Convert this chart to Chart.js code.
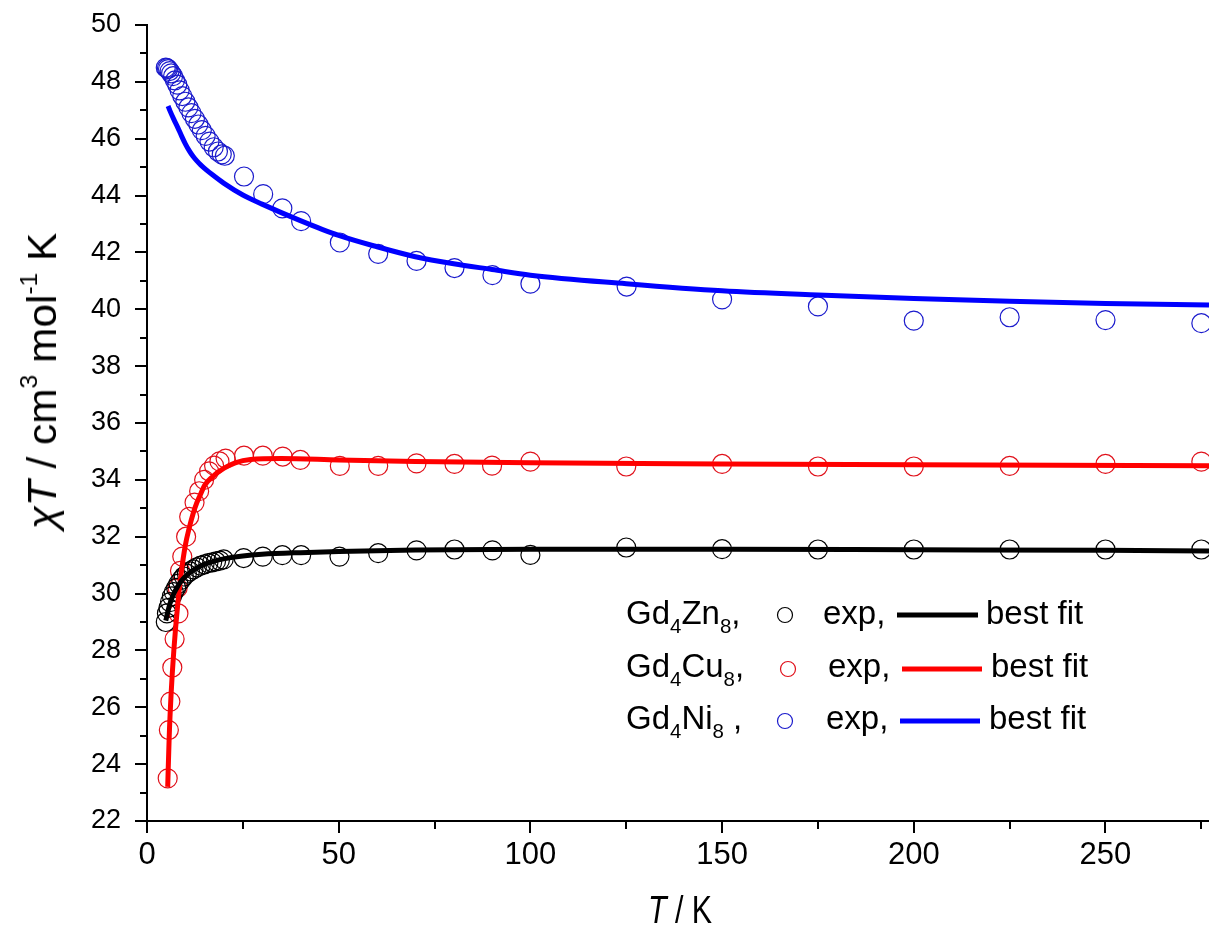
<!DOCTYPE html>
<html>
<head>
<meta charset="utf-8">
<script src="https://cdn.jsdelivr.net/npm/chart.js@4.4.1/dist/chart.umd.min.js"></script>
<style>
  html, body { margin: 0; padding: 0; background: #fff; }
  #wrap { position: relative; width: 1209px; height: 936px; overflow: hidden; }
  canvas { position: absolute; left: 0; top: 0; }
  .ttl { position: absolute; font-family: "Liberation Sans", Arial, sans-serif; color: #000; white-space: nowrap; line-height: 1; }
  .ttl i { font-style: italic; }
  .ttl sup { font-size: 58%; vertical-align: 0.8em; line-height: 0; }
  #ytitle { font-size: 40px; left: 42px; top: 381px; transform: translate(-50%, -50%) rotate(-90deg) scaleX(1.06); }
  #xtitle { font-size: 38px; left: 680px; top: 910px; transform: translate(-50%, -50%) scaleX(0.8); }
  .leg { position: absolute; font-family: "Liberation Sans", Arial, sans-serif; font-size: 33px; color: #000; white-space: nowrap; line-height: 1; }
  .leg sub { font-size: 62%; vertical-align: -0.45em; line-height: 0; }
</style>
</head>
<body>
<div id="wrap">
  <canvas id="c" width="1209" height="936"></canvas>
  <div id="ytitle" class="ttl"><i>χT</i> / cm<sup>3</sup> mol<sup>-1</sup> K</div>
  <div id="xtitle" class="ttl"><i>T</i> / K</div>
  <div class="leg" style="left:626px; top:596px;">Gd<sub>4</sub>Zn<sub>8</sub>,</div>
  <div class="leg" style="left:823px; top:596px;">exp,</div>
  <div class="leg" style="left:986px; top:596px;">best fit</div>
  <div class="leg" style="left:626px; top:649px;">Gd<sub>4</sub>Cu<sub>8</sub>,</div>
  <div class="leg" style="left:828px; top:649px;">exp,</div>
  <div class="leg" style="left:991px; top:649px;">best fit</div>
  <div class="leg" style="left:626px; top:701px;">Gd<sub>4</sub>Ni<sub>8</sub> ,</div>
  <div class="leg" style="left:826px; top:701px;">exp,</div>
  <div class="leg" style="left:989px; top:701px;">best fit</div>
</div>
<script>
// ---------- data ----------
const znExpT = [4.9,5.2,5.6,6.0,6.5,7.0,7.6,8.2,8.9,9.6,10.4,11.2,12.1,13.0,14.0,15.0,16.0,17.0,18.0,19.0,20.0,25.2,30.2,35.3,40.2,50.2,60.3,70.3,80.2,90.1,100,125,150,175,200,225,250,275];
const znExpY = [29.0,29.3,29.5,29.7,29.9,30.05,30.2,30.35,30.48,30.6,30.7,30.78,30.85,30.92,30.98,31.03,31.07,31.1,31.13,31.16,31.2,31.25,31.3,31.35,31.35,31.3,31.42,31.52,31.55,31.52,31.36,31.62,31.56,31.55,31.55,31.55,31.55,31.55];
const znFitT = [4.9,5.5,6,7,8,9,10,12,14,16,18,20,25,30,40,50,70,100,150,200,250,277];
const znFitY = [29.05,29.4,29.65,30.0,30.25,30.45,30.6,30.82,30.97,31.08,31.16,31.22,31.32,31.38,31.44,31.48,31.53,31.56,31.56,31.54,31.52,31.5];

const cuExpT = [5.4,5.7,6.1,6.6,7.2,8.2,8.0,8.6,9.2,10.2,11.0,12.4,13.6,14.9,16.2,17.5,18.9,20.5,25.3,30.2,35.4,40,50.3,60.3,70.3,80.2,90,100,125,150,175,200,225,250,275];
const cuExpY = [23.5,25.2,26.2,27.4,28.4,29.3,30.2,30.8,31.3,32.0,32.7,33.2,33.6,34.0,34.3,34.5,34.65,34.75,34.85,34.85,34.82,34.7,34.49,34.49,34.58,34.56,34.5,34.64,34.47,34.56,34.47,34.47,34.49,34.56,34.64];
const cuFitT = [5.4,5.8,6.3,7,8,9,10,11,12,13,14,15,17,20,23,27,35,50,70,100,150,200,277];
const cuFitY = [23.2,25.0,26.5,28.0,29.6,30.8,31.7,32.3,32.8,33.2,33.5,33.8,34.1,34.4,34.6,34.72,34.75,34.7,34.65,34.6,34.56,34.53,34.5];

const niExpT = [4.9,5.2,5.5,5.9,6.3,6.8,7.3,7.9,8.5,9.2,10,10.8,11.6,12.5,13.4,14.3,15.3,16.3,17.4,18.5,19.5,20.3,25.3,30.3,35.3,40.2,50.3,60.3,70.3,80.2,90.1,100,125.1,150,175,200,225,250,275];
const niExpY = [48.5,48.48,48.45,48.38,48.3,48.2,48.05,47.9,47.7,47.5,47.3,47.1,46.9,46.7,46.5,46.3,46.1,45.9,45.7,45.55,45.45,45.4,44.67,44.05,43.55,43.1,42.35,41.95,41.7,41.45,41.2,40.9,40.8,40.35,40.1,39.6,39.72,39.62,39.51];
const niFitT = [5.5,6,7,8,9,10,11,12,13,14,15,17,20,25,30,40,50,60,70,80,90,100,125,150,175,200,225,250,277];
const niFitY = [47.15,46.98,46.68,46.4,46.1,45.82,45.58,45.38,45.22,45.08,44.96,44.74,44.44,44.02,43.7,43.12,42.6,42.2,41.85,41.6,41.4,41.2,40.9,40.65,40.5,40.38,40.28,40.2,40.15];

const xTickValues = [0,25,50,75,100,125,150,175,200,225,250,275];
const yTickValues = [22,23,24,25,26,27,28,29,30,31,32,33,34,35,36,37,38,39,40,41,42,43,44,45,46,47,48,49,50];

const pts = (xs, ys) => xs.map((x, i) => ({ x: x, y: ys[i] }));

// ---------- chart ----------
const lineDs = (label, xs, ys, color) => ({
  type: 'line', label, data: pts(xs, ys), borderColor: color, backgroundColor: color,
  borderWidth: 5, pointRadius: 0, showLine: true, cubicInterpolationMode: 'monotone', order: 0, clip: false
});
const expDs = (label, xs, ys, color) => ({
  type: 'scatter', label, data: pts(xs, ys), borderColor: color, backgroundColor: 'rgba(0,0,0,0)',
  pointRadius: 9.5, pointBorderWidth: 1.2, pointStyle: 'circle', showLine: false, order: 1, clip: false
});

const tickPlugin = {
  id: 'ticksDraw',
  afterDraw(chart) {
    const ctx = chart.ctx;
    const xs = chart.scales.x, ys = chart.scales.y;
    const area = chart.chartArea;
    ctx.save();
    ctx.strokeStyle = '#000';
    ctx.lineWidth = 2;
    xTickValues.forEach(v => {
      const px = Math.round(xs.getPixelForValue(v));
      const len = (v % 50 === 0) ? 12 : 8;
      ctx.beginPath(); ctx.moveTo(px, area.bottom); ctx.lineTo(px, area.bottom + len); ctx.stroke();
    });
    yTickValues.forEach(v => {
      const py = Math.round(ys.getPixelForValue(v));
      const len = (v % 2 === 0) ? 12 : 7;
      ctx.beginPath(); ctx.moveTo(area.left, py); ctx.lineTo(area.left - len, py); ctx.stroke();
    });
    ctx.restore();
  }
};

const legendPlugin = {
  id: 'legendMarks',
  afterDraw(chart) {
    const ctx = chart.ctx;
    const rows = [
      { cx: 785, cy: 615, color: '#000', lx1: 897, lx2: 978 },
      { cx: 788, cy: 669, color: '#e0101a', lx1: 902, lx2: 982 },
      { cx: 785, cy: 721, color: '#1a1acc', lx1: 900, lx2: 980 }
    ];
    const lineColors = ['#000', '#ff0000', '#0000ff'];
    ctx.save();
    rows.forEach((r, i) => {
      ctx.beginPath(); ctx.arc(r.cx, r.cy, 7.5, 0, Math.PI * 2);
      ctx.strokeStyle = r.color; ctx.lineWidth = 1.2; ctx.stroke();
      ctx.beginPath(); ctx.moveTo(r.lx1, r.cy); ctx.lineTo(r.lx2, r.cy);
      ctx.strokeStyle = lineColors[i]; ctx.lineWidth = 5; ctx.stroke();
    });
    ctx.restore();
  }
};

new Chart(document.getElementById('c'), {
  data: {
    datasets: [
      lineDs('Gd4Zn8 best fit', znFitT, znFitY, '#000000'),
      lineDs('Gd4Cu8 best fit', cuFitT, cuFitY, '#ff0000'),
      lineDs('Gd4Ni8 best fit', niFitT, niFitY, '#0000ff'),
      expDs('Gd4Zn8 exp', znExpT, znExpY, '#000000'),
      expDs('Gd4Cu8 exp', cuExpT, cuExpY, '#e0101a'),
      expDs('Gd4Ni8 exp', niExpT, niExpY, '#1a1acc')
    ]
  },
  options: {
    responsive: false,
    animation: false,
    layout: { autoPadding: false, padding: { left: 0, right: 0, top: 25, bottom: 0 } },
    plugins: { legend: { display: false }, tooltip: { enabled: false } },
    scales: {
      x: {
        type: 'linear', min: 0, max: 277,
        afterBuildTicks: s => { s.ticks = xTickValues.map(v => ({ value: v })); },
        afterFit: s => { s.height = 115; s.paddingRight = 0; s.paddingLeft = 0; },
        grid: { display: false },
        border: { display: true, color: '#000', width: 2 },
        ticks: {
          autoSkip: false, maxRotation: 0, padding: 8,
          color: '#000',
          font: { family: '"Liberation Sans", Arial', size: 31 },
          callback: v => (v % 50 === 0 ? String(v) : '')
        }
      },
      y: {
        type: 'linear', min: 22, max: 50,
        afterBuildTicks: s => { s.ticks = yTickValues.map(v => ({ value: v })); },
        afterFit: s => { s.width = 147; s.paddingTop = 0; s.paddingBottom = 0; },
        grid: { display: false },
        border: { display: true, color: '#000', width: 2 },
        ticks: {
          autoSkip: false, padding: 18,
          color: '#000',
          font: { family: '"Liberation Sans", Arial', size: 27 },
          callback: v => (v % 2 === 0 ? String(v) : '')
        }
      }
    }
  },
  plugins: [tickPlugin, legendPlugin]
});
</script>
</body>
</html>
